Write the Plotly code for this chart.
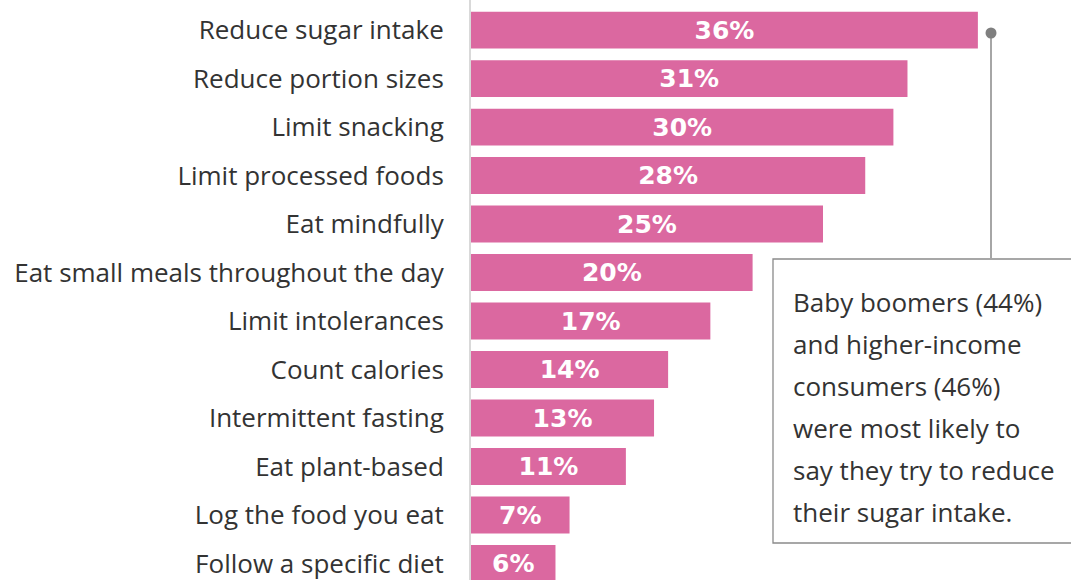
import plotly.graph_objects as go

categories = [
    "Reduce sugar intake",
    "Reduce portion sizes",
    "Limit snacking",
    "Limit processed foods",
    "Eat mindfully",
    "Eat small meals throughout the day",
    "Limit intolerances",
    "Count calories",
    "Intermittent fasting",
    "Eat plant-based",
    "Log the food you eat",
    "Follow a specific diet",
]
values = [36, 31, 30, 28, 25, 20, 17, 14, 13, 11, 7, 6]
value_labels = [f"{v}%" for v in values]

note_lines = [
    "Baby boomers (44%)",
    "and higher-income",
    "consumers (46%)",
    "were most likely to",
    "say they try to reduce",
    "their sugar intake.",
]

BAR_COLOR = "#DB68A0"
TEXT_COLOR = "#333333"
W, H = 1071, 580
ML = 471

fig = go.Figure(
    go.Bar(
        x=values,
        y=categories,
        orientation="h",
        marker=dict(color=BAR_COLOR, line=dict(width=0)),
        width=0.76,
        text=value_labels,
        textposition="inside",
        insidetextanchor="middle",
        textangle=0,
        textfont=dict(family="DejaVu Sans", size=25, color="white", weight=700),
        cliponaxis=False,
        hoverinfo="skip",
    )
)

# callout: dot beside the top bar, connector down to the note box
px = lambda x: (x - ML) / (W - ML)
py = lambda y: 1 - y / H

shapes = [
    dict(type="rect", xref="paper", yref="paper",
         x0=px(773), x1=px(1090), y0=py(543), y1=py(259),
         line=dict(color="#8a8a8a", width=1.3), fillcolor="white", layer="above"),
    dict(type="line", xref="paper", yref="paper",
         x0=px(991), x1=px(991), y0=py(33), y1=py(259),
         line=dict(color="#a6a6a6", width=2)),
    dict(type="circle", xref="paper", yref="paper",
         x0=px(985.5), x1=px(996.5), y0=py(27.5), y1=py(38.5),
         line=dict(width=0), fillcolor="#7f7f7f"),
]

annotations = []
for i, line in enumerate(note_lines):
    annotations.append(dict(
        xref="paper", yref="paper", x=px(791), y=py(302 + 42 * i),
        xanchor="left", yanchor="middle", showarrow=False, text=line,
        font=dict(family="Open Sans", size=26, color=TEXT_COLOR),
    ))

fig.update_layout(
    width=W, height=H,
    margin=dict(l=ML, r=0, t=0, b=0),
    paper_bgcolor="white", plot_bgcolor="white",
    showlegend=False,
    bargap=0.24,
    shapes=shapes,
    annotations=annotations,
    xaxis=dict(range=[0, (W - ML) / 14.08], visible=False, fixedrange=True),
    yaxis=dict(
        type="category",
        range=[11.34, -0.62],
        showline=True, linecolor="#d9d9d9", linewidth=2,
        showgrid=False, zeroline=False, ticks="",
        ticklabelstandoff=20,
        tickfont=dict(family="Open Sans", size=26, color=TEXT_COLOR),
        fixedrange=True,
    ),
)

fig.write_html("out.html")
